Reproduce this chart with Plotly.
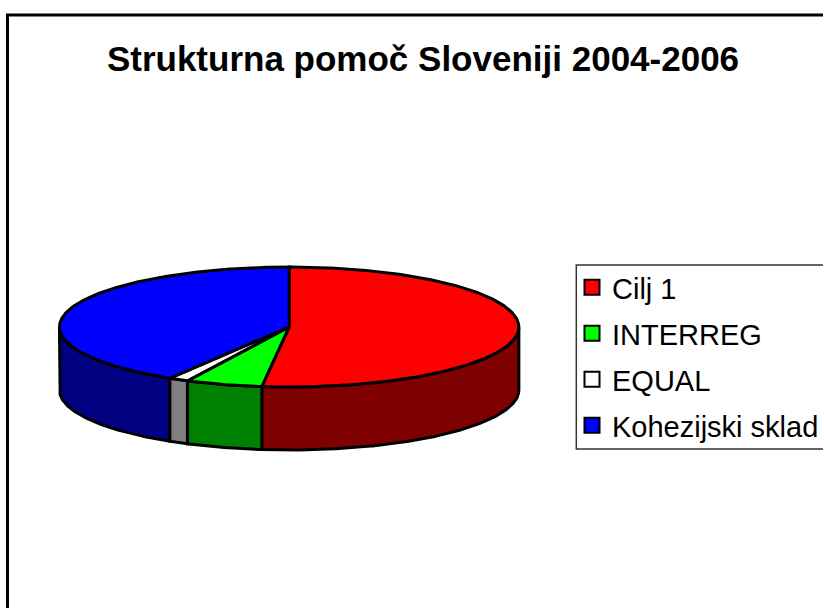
import math
import plotly.graph_objects as go

categories = ["Cilj 1", "INTERREG", "EQUAL", "Kohezijski sklad"]
values = [51.9, 5.4, 1.4, 41.3]
top_colors = ["#FF0000", "#00FF00", "#FFFFFF", "#0000FF"]
side_colors = ["#7F0000", "#008000", "#808080", "#000080"]
title_text = "Strukturna pomoč Sloveniji 2004-2006"

CX, CY, RX, RY, DEPTH = 289.5, 327, 230, 60, 63
W, H = 824, 608


def pt(deg, dy=0):
    a = math.radians(deg)
    return CX + RX * math.sin(a), CY - RY * math.cos(a) + dy


def arc(a0, a1, dy=0):
    n = max(2, int(abs(a1 - a0) * 2))
    return [pt(a0 + (a1 - a0) * i / n, dy) for i in range(n + 1)]


fig = go.Figure()
total = sum(values)
spans = []
start = 0.0
for v in values:
    end = start + 360 * v / total
    spans.append((start, end))
    start = end

# side walls (visible front half of the disc)
for (a0, a1), col in zip(spans, side_colors):
    s, e = max(a0, 90), min(a1, 270)
    if s >= e:
        continue
    pts = arc(s, e) + arc(e, s, DEPTH)
    pts.append(pts[0])
    fig.add_trace(go.Scatter(x=[p[0] for p in pts], y=[p[1] for p in pts], mode="lines",
                             fill="toself", fillcolor=col, line=dict(color="black", width=3),
                             showlegend=False, hoverinfo="skip"))

# top faces
for (a0, a1), col in zip(spans, top_colors):
    pts = [(CX, CY)] + arc(a0, a1) + [(CX, CY)]
    fig.add_trace(go.Scatter(x=[p[0] for p in pts], y=[p[1] for p in pts], mode="lines",
                             fill="toself", fillcolor=col, line=dict(color="black", width=3),
                             showlegend=False, hoverinfo="skip"))

# legend entries
for i, (name, col) in enumerate(zip(categories, top_colors)):
    fig.add_trace(go.Scatter(x=[None], y=[None], mode="markers", name=name, legendgroup=name,
                             marker=dict(symbol="square", size=15, color=col,
                                         line=dict(color="black", width=2))))

fig.update_layout(
    width=W, height=H, autosize=False,
    margin=dict(l=0, r=0, t=0, b=0),
    paper_bgcolor="white", plot_bgcolor="white",
    font=dict(family="Liberation Sans, Arial, sans-serif", color="black"),
    title=dict(text="<b>" + title_text + "</b>", x=423 / W, xanchor="center",
               y=1 - 59 / H, yanchor="middle",
               font=dict(size=35, family="Liberation Sans, Arial, sans-serif", color="black")),
    xaxis=dict(range=[0, W], visible=False, fixedrange=True),
    yaxis=dict(range=[H, 0], visible=False, fixedrange=True),
    legend=dict(x=573 / W, xanchor="left", y=1 - 262 / H, yanchor="top",
                bgcolor="rgba(0,0,0,0)", borderwidth=0,
                font=dict(size=29), tracegroupgap=5.3, itemwidth=30),
    shapes=[
        dict(type="rect", xref="x", yref="y", x0=7.5, y0=15, x1=W + 20, y1=H + 20,
             line=dict(color="black", width=3), fillcolor="rgba(0,0,0,0)", layer="below"),
        dict(type="rect", xref="x", yref="y", x0=577, y0=265, x1=W + 20, y1=449,
             line=dict(color="#333333", width=1.5), fillcolor="white", layer="below"),
    ],
)

fig.write_html("out.html", config=dict(displayModeBar=False),
               post_script="document.body.style.margin='0';")
